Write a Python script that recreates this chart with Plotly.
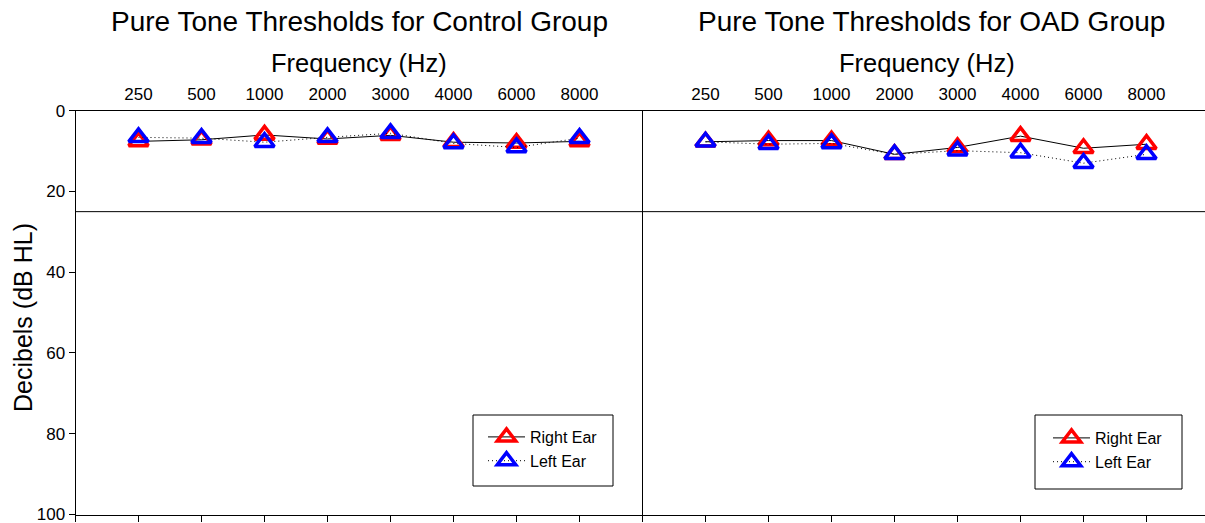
import plotly.graph_objects as go

frequencies = ["250", "500", "1000", "2000", "3000", "4000", "6000", "8000"]
positions = [1, 2, 3, 4, 5, 6, 7, 8]

control_right = [7.6, 7.2, 6.0, 7.0, 6.1, 7.8, 8.0, 7.6]
control_left = [6.6, 6.8, 7.8, 6.6, 5.6, 8.1, 9.1, 6.8]
oad_right = [7.7, 7.4, 7.4, 10.8, 9.1, 6.3, 9.3, 8.3]
oad_left = [7.7, 8.3, 8.1, 10.8, 9.9, 10.4, 13.0, 10.8]

y_ticks = [0, 20, 40, 60, 80, 100]
normal_limit = 25

W, H = 1205, 523
FONT = "Liberation Sans, Arial, sans-serif"

def px_x(p):
    return p / W

def px_y(p):
    return 1 - p / H

L_left, L_right = px_x(75.5), px_x(642.5)
R_left, R_right = px_x(642.5), 1.0
y_dom = [px_y(514.5), px_y(110.7)]

fig = go.Figure()

def add_pair(xa_top, xa_bot, ya, right_vals, left_vals, legend):
    fig.add_trace(go.Scatter(
        x=positions, y=right_vals, xaxis=xa_top, yaxis=ya, name="Right Ear",
        mode="lines+markers", legend=legend,
        line=dict(color="black", width=1),
        marker=dict(symbol="triangle-up-open", size=17, color="#ff0000",
                    line=dict(width=3.5, color="#ff0000")),
    ))
    fig.add_trace(go.Scatter(
        x=positions, y=left_vals, xaxis=xa_bot, yaxis=ya, name="Left Ear",
        mode="lines+markers", legend=legend,
        line=dict(color="black", width=1, dash="1px,3px"),
        marker=dict(symbol="triangle-up-open", size=17, color="#0000ff",
                    line=dict(width=3.5, color="#0000ff")),
    ))

add_pair("x", "x2", "y", control_right, control_left, "legend")
add_pair("x3", "x4", "y2", oad_right, oad_left, "legend2")

tickfont = dict(family=FONT, size=17, color="black")

top_axis = dict(side="top", tickmode="array", tickvals=positions, ticktext=frequencies,
                ticks="", showline=True, linecolor="black", linewidth=1, automargin=False,
                showgrid=False, zeroline=False, tickfont=tickfont, ticklabelstandoff=3,
                ticklabeloverflow="allow")
bot_axis = dict(side="bottom", tickmode="array", tickvals=list(range(0, 10)),
                ticks="outside", ticklen=6, tickcolor="black", tickwidth=1, automargin=False,
                showticklabels=False, showline=True, linecolor="black", linewidth=1,
                showgrid=False, zeroline=False)

fig.update_layout(
    template="none",
    width=W, height=H,
    margin=dict(l=0, r=0, t=0, b=0, pad=0, autoexpand=False),
    paper_bgcolor="white", plot_bgcolor="white",
    font=dict(family=FONT, color="black"),
    showlegend=True,
    xaxis=dict(domain=[L_left, L_right], range=[0, 9], anchor="y", **top_axis),
    xaxis2=dict(domain=[L_left, L_right], range=[0, 9], anchor="y", overlaying="x", **bot_axis),
    xaxis3=dict(domain=[R_left, R_right], range=[0, (1205 - 642.5) / 63.0], anchor="y2", **top_axis),
    xaxis4=dict(domain=[R_left, R_right], range=[0, (1205 - 642.5) / 63.0], anchor="y2", overlaying="x3",
                **{**bot_axis, "tickvals": list(range(0, 9))}),
    yaxis=dict(domain=y_dom, range=[100, 0], anchor="x", tickmode="array", tickvals=y_ticks,
               ticks="outside", ticklen=6, tickcolor="black", showline=True, linecolor="black",
               showgrid=False, zeroline=False, tickfont=tickfont, automargin=False,
               ticklabeloverflow="allow"),
    yaxis2=dict(domain=y_dom, range=[100, 0], anchor="x3", showticklabels=False, ticks="",
                showline=True, linecolor="black", showgrid=False, zeroline=False, automargin=False),
    legend=dict(x=px_x(483), y=px_y(420), xanchor="left", yanchor="top",
                bgcolor="rgba(0,0,0,0)", borderwidth=0, itemwidth=37,
                font=dict(family=FONT, size=16, color="black"), tracegroupgap=0),
    legend2=dict(x=px_x(1048), y=px_y(421), xanchor="left", yanchor="top",
                 bgcolor="rgba(0,0,0,0)", borderwidth=0, itemwidth=37,
                 font=dict(family=FONT, size=16, color="black"), tracegroupgap=0),
)

shapes = [
    dict(type="line", xref="paper", yref="y", x0=L_left, x1=L_right, y0=normal_limit, y1=normal_limit,
         line=dict(color="black", width=1)),
    dict(type="line", xref="paper", yref="y2", x0=R_left, x1=R_right, y0=normal_limit, y1=normal_limit,
         line=dict(color="black", width=1)),
    dict(type="rect", xref="paper", yref="paper", x0=px_x(473), x1=px_x(613), y0=px_y(486), y1=px_y(415),
         line=dict(color="black", width=1), fillcolor="rgba(0,0,0,0)"),
    dict(type="rect", xref="paper", yref="paper", x0=px_x(1035), x1=px_x(1182), y0=px_y(489), y1=px_y(415),
         line=dict(color="black", width=1), fillcolor="rgba(0,0,0,0)"),
]
fig.update_layout(shapes=shapes)

title_font = dict(family=FONT, size=28, color="black")
sub_font = dict(family=FONT, size=25.5, color="black")
annotations = [
    dict(text="Pure Tone Thresholds for Control Group", x=(L_left + L_right) / 2, y=px_y(22),
         xref="paper", yref="paper", showarrow=False, font=title_font, xanchor="center", yanchor="middle"),
    dict(text="Pure Tone Thresholds for OAD Group", x=px_x(931), y=px_y(22),
         xref="paper", yref="paper", showarrow=False, font=title_font, xanchor="center", yanchor="middle"),
    dict(text="Frequency (Hz)", x=(L_left + L_right) / 2, y=px_y(63),
         xref="paper", yref="paper", showarrow=False, font=sub_font, xanchor="center", yanchor="middle"),
    dict(text="Frequency (Hz)", x=px_x(927), y=px_y(63),
         xref="paper", yref="paper", showarrow=False, font=sub_font, xanchor="center", yanchor="middle"),
    dict(text="Decibels (dB HL)", x=px_x(23), y=px_y(318), textangle=-90,
         xref="paper", yref="paper", showarrow=False, font=dict(family=FONT, size=25, color="black"),
         xanchor="center", yanchor="middle"),
]
fig.update_layout(annotations=annotations)

fig.write_html("out.html", config={"displayModeBar": False},
               post_script="document.body.style.margin='0';document.body.style.padding='0';")
